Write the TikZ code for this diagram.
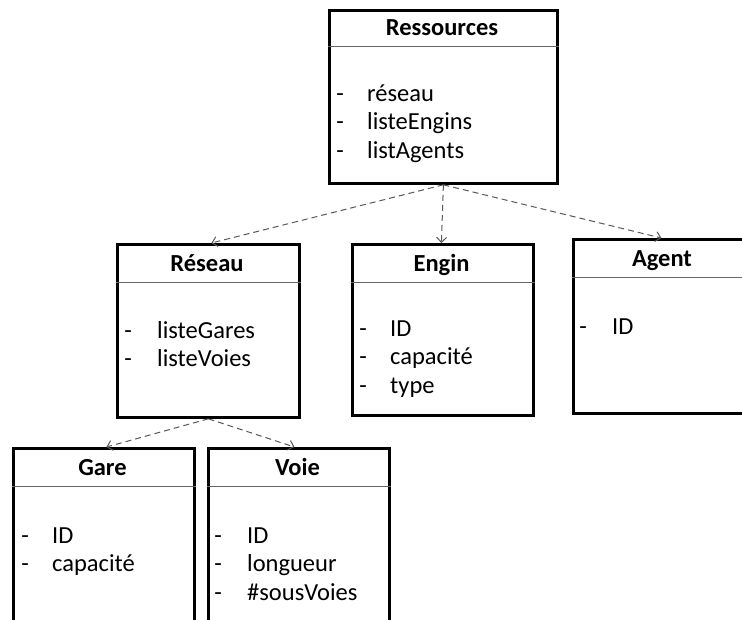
\documentclass[tikz,border=0pt]{standalone}
\usepackage{fontspec}
\setmainfont{Carlito}
\usetikzlibrary{arrows.meta}
\tikzset{
  box/.style={draw=black, line width=2.8pt, fill=white, inner sep=0pt, anchor=north west},
  hdr/.style={draw=black!60, line width=1pt},
  ctitle/.style={font=\fontsize{24.5}{29}\selectfont\bfseries, anchor=base, inner sep=0pt},
  cdash/.style={font=\fontsize{24.5}{29}\selectfont, anchor=base, inner sep=0pt},
  citem/.style={font=\fontsize{24.5}{29}\selectfont, anchor=base west, inner sep=0pt},
  dep/.style={draw=black!65, line width=1pt, dash pattern=on 6pt off 4pt, -{Straight Barb[length=5pt,width=10pt]}}
}
\begin{document}
\begin{tikzpicture}[x=1pt,y=-1pt]
\clip (0,0) rectangle (742,619);
\fill[white] (0,0) rectangle (742,619);

% Ressources
\node[box, minimum width=228pt, minimum height=173pt] (res) at (328,9) {};
\draw[hdr] (res.west |- 0,46) -- (res.east |- 0,46);
\node[ctitle] (res-t) at (442,35) {Ressources};
\node[cdash] (res-d1) at (340,101) {-};
\node[citem] (res-i1) at (367,101) {réseau};
\node[cdash] (res-d2) at (340,129.5) {-};
\node[citem] (res-i2) at (367,129.5) {listeEngins};
\node[cdash] (res-d3) at (340,158) {-};
\node[citem] (res-i3) at (367,158) {listAgents};

% Réseau
\node[box, minimum width=182pt, minimum height=173pt] (rsx) at (116,243) {};
\draw[hdr] (rsx.west |- 0,282) -- (rsx.east |- 0,282);
\node[ctitle] (rsx-t) at (207,271) {Réseau};
\node[cdash] (rsx-d1) at (128,338) {-};
\node[citem] (rsx-i1) at (157,338) {listeGares};
\node[cdash] (rsx-d2) at (128,366) {-};
\node[citem] (rsx-i2) at (157,366) {listeVoies};

% Engin
\node[box, minimum width=181pt, minimum height=171pt] (eng) at (351,243) {};
\draw[hdr] (eng.west |- 0,282) -- (eng.east |- 0,282);
\node[ctitle] (eng-t) at (441.5,271) {Engin};
\node[cdash] (eng-d1) at (363,336) {-};
\node[citem] (eng-i1) at (390,336) {ID};
\node[cdash] (eng-d2) at (363,364.5) {-};
\node[citem] (eng-i2) at (390,364.5) {capacité};
\node[cdash] (eng-d3) at (363,393) {-};
\node[citem] (eng-i3) at (390,393) {type};

% Agent
\node[box, minimum width=180pt, minimum height=174pt] (agt) at (572,238) {};
\draw[hdr] (agt.west |- 0,277) -- (agt.east |- 0,277);
\node[ctitle] (agt-t) at (662,266) {Agent};
\node[cdash] (agt-d1) at (583,334) {-};
\node[citem] (agt-i1) at (612,334) {ID};

% Gare
\node[box, minimum width=181pt, minimum height=180pt] (gar) at (12,447) {};
\draw[hdr] (gar.west |- 0,486) -- (gar.east |- 0,486);
\node[ctitle] (gar-t) at (102.5,475) {Gare};
\node[cdash] (gar-d1) at (25,543) {-};
\node[citem] (gar-i1) at (52,543) {ID};
\node[cdash] (gar-d2) at (25,571.5) {-};
\node[citem] (gar-i2) at (52,571.5) {capacité};

% Voie
\node[box, minimum width=181pt, minimum height=180pt] (voi) at (207,447) {};
\draw[hdr] (voi.west |- 0,486) -- (voi.east |- 0,486);
\node[ctitle] (voi-t) at (297.5,475) {Voie};
\node[cdash] (voi-d1) at (218,543) {-};
\node[citem] (voi-i1) at (247,543) {ID};
\node[cdash] (voi-d2) at (218,571.5) {-};
\node[citem] (voi-i2) at (247,571.5) {longueur};
\node[cdash] (voi-d3) at (218,600) {-};
\node[citem] (voi-i3) at (247,600) {\#sousVoies};

% dependencies
\draw[dep] (res.south) -- ([xshift=3pt]rsx.north);
\draw[dep] (res.south) -- ([xshift=-1.5pt]eng.north);
\draw[dep] (res.south) -- ([xshift=-2pt]agt.north);
\draw[dep] (rsx.south) -- ([xshift=2.5pt]gar.north);
\draw[dep] (rsx.south) -- ([xshift=-4.5pt]voi.north);
\end{tikzpicture}
\end{document}
